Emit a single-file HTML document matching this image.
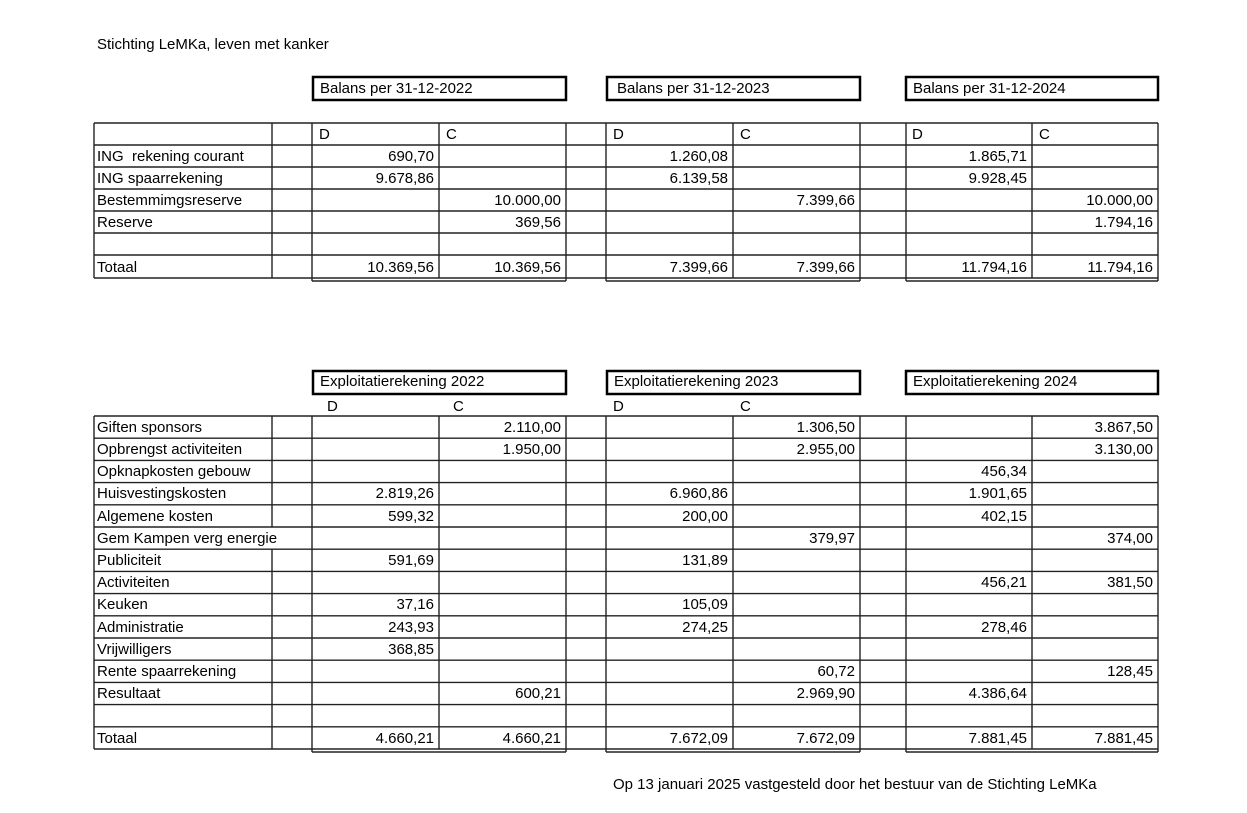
<!DOCTYPE html>
<html><head><meta charset="utf-8"><style>
html,body{margin:0;padding:0;background:#fff}
svg{display:block}
text{font-family:"Liberation Sans",sans-serif;font-size:15px;fill:#000}
.r{text-anchor:end}
</style></head><body>
<svg width="1247" height="813" viewBox="0 0 1247 813">
<text x="97" y="49">Stichting LeMKa, leven met kanker</text>
<g fill="none" stroke="#000" stroke-width="2.5">
<rect x="313" y="77" width="253" height="23"/>
<rect x="607" y="77" width="253" height="23"/>
<rect x="906" y="77" width="252" height="23"/>
<rect x="313" y="371" width="253" height="23"/>
<rect x="607" y="371" width="253" height="23"/>
<rect x="906" y="371" width="252" height="23"/>
</g>
<text x="320" y="93">Balans per 31-12-2022</text>
<text x="617" y="93">Balans per 31-12-2023</text>
<text x="913" y="93">Balans per 31-12-2024</text>
<text x="320" y="386">Exploitatierekening 2022</text>
<text x="614" y="386">Exploitatierekening 2023</text>
<text x="913" y="386">Exploitatierekening 2024</text>

<g stroke="#222" stroke-width="1.4">
<line x1="94" y1="123" x2="1158" y2="123"/>
<line x1="94" y1="145" x2="1158" y2="145"/>
<line x1="94" y1="167" x2="1158" y2="167"/>
<line x1="94" y1="189" x2="1158" y2="189"/>
<line x1="94" y1="211" x2="1158" y2="211"/>
<line x1="94" y1="233" x2="1158" y2="233"/>
<line x1="94" y1="255" x2="1158" y2="255"/>
<line x1="94" y1="278" x2="1158" y2="278"/>
<line x1="312" y1="281" x2="566" y2="281"/>
<line x1="606" y1="281" x2="860" y2="281"/>
<line x1="906" y1="281" x2="1158" y2="281"/>
<line x1="94" y1="123" x2="94" y2="278"/>
<line x1="272" y1="123" x2="272" y2="278"/>
<line x1="312" y1="123" x2="312" y2="281"/>
<line x1="439" y1="123" x2="439" y2="278"/>
<line x1="566" y1="123" x2="566" y2="281"/>
<line x1="606" y1="123" x2="606" y2="281"/>
<line x1="733" y1="123" x2="733" y2="278"/>
<line x1="860" y1="123" x2="860" y2="281"/>
<line x1="906" y1="123" x2="906" y2="281"/>
<line x1="1032" y1="123" x2="1032" y2="278"/>
<line x1="1158" y1="123" x2="1158" y2="281"/>
</g>
<text x="319" y="139">D</text><text x="446" y="139">C</text>
<text x="613" y="139">D</text><text x="740" y="139">C</text>
<text x="912" y="139">D</text><text x="1039" y="139">C</text>

<text x="97" y="161">ING&#160; rekening courant</text>
<text x="97" y="183">ING spaarrekening</text>
<text x="97" y="205">Bestemmimgsreserve</text>
<text x="97" y="227">Reserve</text>
<text x="97" y="272">Totaal</text>
<text class="r" x="434" y="161">690,70</text>
<text class="r" x="434" y="183">9.678,86</text>
<text class="r" x="561" y="205">10.000,00</text>
<text class="r" x="561" y="227">369,56</text>
<text class="r" x="434" y="272">10.369,56</text>
<text class="r" x="561" y="272">10.369,56</text>
<text class="r" x="728" y="161">1.260,08</text>
<text class="r" x="728" y="183">6.139,58</text>
<text class="r" x="855" y="205">7.399,66</text>
<text class="r" x="728" y="272">7.399,66</text>
<text class="r" x="855" y="272">7.399,66</text>
<text class="r" x="1027" y="161">1.865,71</text>
<text class="r" x="1027" y="183">9.928,45</text>
<text class="r" x="1153" y="205">10.000,00</text>
<text class="r" x="1153" y="227">1.794,16</text>
<text class="r" x="1027" y="272">11.794,16</text>
<text class="r" x="1153" y="272">11.794,16</text>

<text x="327" y="411">D</text><text x="453" y="411">C</text>
<text x="613" y="411">D</text><text x="740" y="411">C</text>

<g stroke="#222" stroke-width="1.4">
<line x1="94" y1="416" x2="1158" y2="416"/>
<line x1="94" y1="438.2" x2="1158" y2="438.2"/>
<line x1="94" y1="460.4" x2="1158" y2="460.4"/>
<line x1="94" y1="482.6" x2="1158" y2="482.6"/>
<line x1="94" y1="504.8" x2="1158" y2="504.8"/>
<line x1="94" y1="527" x2="1158" y2="527"/>
<line x1="94" y1="549.2" x2="1158" y2="549.2"/>
<line x1="94" y1="571.4" x2="1158" y2="571.4"/>
<line x1="94" y1="593.6" x2="1158" y2="593.6"/>
<line x1="94" y1="615.8" x2="1158" y2="615.8"/>
<line x1="94" y1="638" x2="1158" y2="638"/>
<line x1="94" y1="660.2" x2="1158" y2="660.2"/>
<line x1="94" y1="682.4" x2="1158" y2="682.4"/>
<line x1="94" y1="704.6" x2="1158" y2="704.6"/>
<line x1="94" y1="726.8" x2="1158" y2="726.8"/>
<line x1="94" y1="749" x2="1158" y2="749"/>
<line x1="312" y1="752" x2="566" y2="752"/>
<line x1="606" y1="752" x2="860" y2="752"/>
<line x1="906" y1="752" x2="1158" y2="752"/>
<line x1="94" y1="416" x2="94" y2="749"/>
<line x1="272" y1="416" x2="272" y2="527"/>
<line x1="272" y1="549.2" x2="272" y2="749"/>
<line x1="312" y1="416" x2="312" y2="752"/>
<line x1="439" y1="416" x2="439" y2="749"/>
<line x1="566" y1="416" x2="566" y2="752"/>
<line x1="606" y1="416" x2="606" y2="752"/>
<line x1="733" y1="416" x2="733" y2="749"/>
<line x1="860" y1="416" x2="860" y2="752"/>
<line x1="906" y1="416" x2="906" y2="752"/>
<line x1="1032" y1="416" x2="1032" y2="749"/>
<line x1="1158" y1="416" x2="1158" y2="752"/>
</g>

<text x="97" y="432">Giften sponsors</text>
<text x="97" y="454">Opbrengst activiteiten</text>
<text x="97" y="476">Opknapkosten gebouw</text>
<text x="97" y="498">Huisvestingskosten</text>
<text x="97" y="521">Algemene kosten</text>
<text x="97" y="543">Gem Kampen verg energie</text>
<text x="97" y="565">Publiciteit</text>
<text x="97" y="587">Activiteiten</text>
<text x="97" y="609">Keuken</text>
<text x="97" y="632">Administratie</text>
<text x="97" y="654">Vrijwilligers</text>
<text x="97" y="676">Rente spaarrekening</text>
<text x="97" y="698">Resultaat</text>
<text x="97" y="743">Totaal</text>

<text class="r" x="561" y="432">2.110,00</text>
<text class="r" x="561" y="454">1.950,00</text>
<text class="r" x="434" y="498">2.819,26</text>
<text class="r" x="434" y="521">599,32</text>
<text class="r" x="434" y="565">591,69</text>
<text class="r" x="434" y="609">37,16</text>
<text class="r" x="434" y="632">243,93</text>
<text class="r" x="434" y="654">368,85</text>
<text class="r" x="561" y="698">600,21</text>
<text class="r" x="434" y="743">4.660,21</text>
<text class="r" x="561" y="743">4.660,21</text>

<text class="r" x="855" y="432">1.306,50</text>
<text class="r" x="855" y="454">2.955,00</text>
<text class="r" x="728" y="498">6.960,86</text>
<text class="r" x="728" y="521">200,00</text>
<text class="r" x="855" y="543">379,97</text>
<text class="r" x="728" y="565">131,89</text>
<text class="r" x="728" y="609">105,09</text>
<text class="r" x="728" y="632">274,25</text>
<text class="r" x="855" y="676">60,72</text>
<text class="r" x="855" y="698">2.969,90</text>
<text class="r" x="728" y="743">7.672,09</text>
<text class="r" x="855" y="743">7.672,09</text>

<text class="r" x="1153" y="432">3.867,50</text>
<text class="r" x="1153" y="454">3.130,00</text>
<text class="r" x="1027" y="476">456,34</text>
<text class="r" x="1027" y="498">1.901,65</text>
<text class="r" x="1027" y="521">402,15</text>
<text class="r" x="1153" y="543">374,00</text>
<text class="r" x="1027" y="587">456,21</text>
<text class="r" x="1153" y="587">381,50</text>
<text class="r" x="1027" y="632">278,46</text>
<text class="r" x="1153" y="676">128,45</text>
<text class="r" x="1027" y="698">4.386,64</text>
<text class="r" x="1027" y="743">7.881,45</text>
<text class="r" x="1153" y="743">7.881,45</text>

<text x="613" y="789">Op 13 januari 2025 vastgesteld door het bestuur van de Stichting LeMKa</text>
</svg>
</body></html>
